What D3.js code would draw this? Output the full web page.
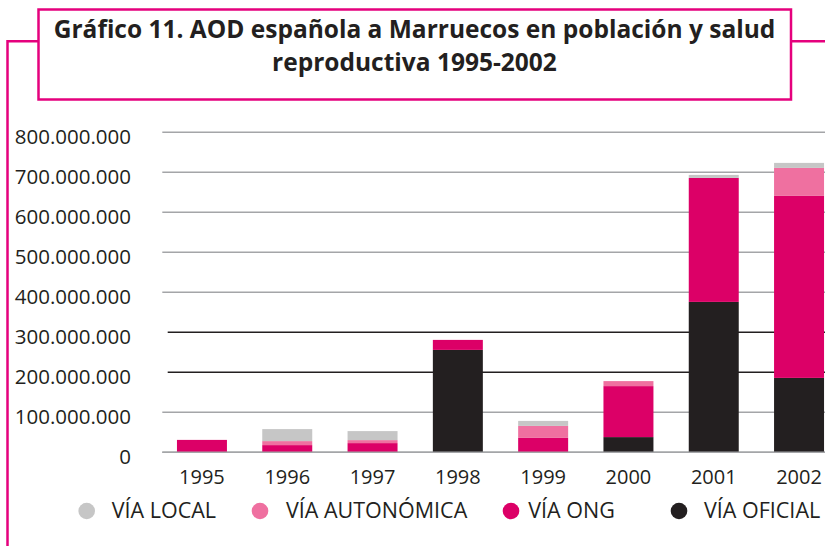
<!DOCTYPE html>
<html>
<head>
<meta charset="utf-8">
<script src="https://cdn.jsdelivr.net/npm/d3@7"></script>
<style>
  html, body { margin: 0; padding: 0; background: #ffffff; }
  svg { display: block; font-family: "Open Sans", "Noto Sans", sans-serif; }
</style>
</head>
<body>
<svg id="chart" width="825" height="546"></svg>
<script>
// ---- Data ----
const years = ["1995", "1996", "1997", "1998", "1999", "2000", "2001", "2002"];
const viaOficial    = [0, 0, 0, 256e6, 0, 38e6, 376e6, 186e6];
const viaOng        = [31e6, 18e6, 23e6, 25e6, 36e6, 127.5e6, 310e6, 455e6];
const viaAutonomica = [0, 10e6, 7.5e6, 0, 30e6, 12.5e6, 0, 70e6];
const viaLocal      = [0, 30e6, 22.5e6, 0, 12.5e6, 0, 7.5e6, 12.5e6];
const seriesNames   = ["VÍA LOCAL", "VÍA AUTONÓMICA", "VÍA ONG", "VÍA OFICIAL"];
const yTicks        = [0, 1e8, 2e8, 3e8, 4e8, 5e8, 6e8, 7e8, 8e8];
const titleLines    = ["Gráfico 11. AOD española a Marruecos en población y salud", "reproductiva 1995-2002"];

// ---- Styles ----
const PINK_FRAME = "#e5007d";
const TEXT = "#231f20";
const colors = {
  "VÍA LOCAL": "#c6c6c6",
  "VÍA AUTONÓMICA": "#ef70a0",
  "VÍA ONG": "#dc0067",
  "VÍA OFICIAL": "#231f20"
};
const darkGrid = new Set([2e8, 3e8]);

const svg = d3.select("#chart");

// ---- Frame & title ----
svg.append("path")
  .attr("d", "M7.5,546 L7.5,41.2 L38,41.2 M791,41.2 L830,41.2")
  .attr("fill", "none").attr("stroke", PINK_FRAME).attr("stroke-width", 2.5);
svg.append("rect")
  .attr("x", 38.5).attr("y", 9.5).attr("width", 752.5).attr("height", 90)
  .attr("fill", "#fff").attr("stroke", PINK_FRAME).attr("stroke-width", 2.5);

const t1 = svg.append("text").attr("x", 414.5).attr("y", 38)
  .attr("text-anchor", "middle").attr("font-weight", 700).attr("font-size", 24)
  .attr("fill", TEXT).text(titleLines[0]);
const w1 = t1.node().getComputedTextLength();
const titleSize = 24 * Math.min(1.05, 721.7 / w1);
t1.attr("font-size", titleSize);
svg.append("text").attr("x", 414.5).attr("y", 71)
  .attr("text-anchor", "middle").attr("font-weight", 700).attr("font-size", titleSize)
  .attr("fill", TEXT).text(titleLines[1]);

// ---- Scales ----
const y = d3.scaleLinear().domain([0, 8e8]).range([452.3, 132.3]);
const step = 85.3;
const x = d3.scaleBand().domain(years)
  .range([159.3, 159.3 + step * years.length])
  .paddingInner(0.414).paddingOuter(0.207);

// ---- Grid ----
const fmt = v => d3.format(",")(v).replace(/,/g, ".");
const grid = svg.append("g");
grid.selectAll("line").data(yTicks).join("line")
  .attr("x1", d => darkGrid.has(d) ? 167.7 : 162.3)
  .attr("x2", 830)
  .attr("y1", d => y(d)).attr("y2", d => y(d))
  .attr("stroke", d => darkGrid.has(d) ? "#231f20" : "#a4a5a8")
  .attr("stroke-width", 1.6);

// ---- Y labels ----
svg.append("g").selectAll("text").data(yTicks).join("text")
  .attr("x", 131).attr("y", d => y(d) + 11.8)
  .attr("text-anchor", "end").attr("font-size", 20.5).attr("fill", TEXT)
  .text(d => fmt(d));

// ---- Stacked bars ----
const table = years.map((yr, i) => ({
  year: yr,
  "VÍA OFICIAL": viaOficial[i],
  "VÍA ONG": viaOng[i],
  "VÍA AUTONÓMICA": viaAutonomica[i],
  "VÍA LOCAL": viaLocal[i]
}));
const stackKeys = ["VÍA OFICIAL", "VÍA ONG", "VÍA AUTONÓMICA", "VÍA LOCAL"];
const stacked = d3.stack().keys(stackKeys)(table);

svg.append("g").selectAll("g").data(stacked).join("g")
  .attr("fill", d => colors[d.key])
  .selectAll("rect").data(d => d).join("rect")
  .attr("x", d => x(d.data.year))
  .attr("width", x.bandwidth())
  .attr("y", d => y(d[1]))
  .attr("height", d => y(d[0]) - y(d[1]));

// baseline on top
svg.append("line").attr("x1", 162.3).attr("x2", 830)
  .attr("y1", y(0)).attr("y2", y(0))
  .attr("stroke", "#a4a5a8").attr("stroke-width", 1.6);

// ---- X labels ----
svg.append("g").selectAll("text").data(years).join("text")
  .attr("x", d => x(d) + x.bandwidth() / 2).attr("y", 484)
  .attr("text-anchor", "middle").attr("font-size", 20).attr("fill", TEXT)
  .text(d => d);

// ---- Legend ----
const legendLayout = [
  { cx: 86.7, tx: 111.7 },
  { cx: 260, tx: 286 },
  { cx: 511, tx: 528.3 },
  { cx: 679, tx: 704 }
];
const lg = svg.append("g").selectAll("g").data(seriesNames).join("g");
lg.append("circle")
  .attr("cx", (d, i) => legendLayout[i].cx).attr("cy", 511).attr("r", 8.3)
  .attr("fill", d => colors[d]);
lg.append("text")
  .attr("x", (d, i) => legendLayout[i].tx).attr("y", 518.3)
  .attr("font-size", 21.5).attr("fill", TEXT)
  .text(d => d);
</script>
</body>
</html>
